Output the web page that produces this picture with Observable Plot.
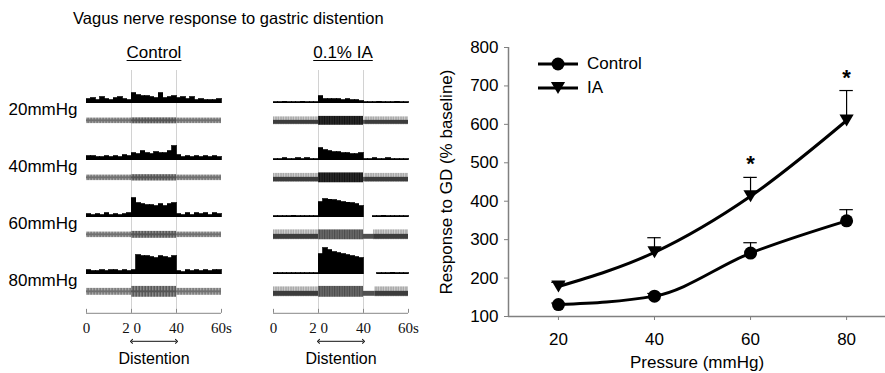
<!DOCTYPE html>
<html>
<head>
<meta charset="utf-8">
<script src="https://cdn.jsdelivr.net/npm/d3@7"></script>
<script src="https://cdn.jsdelivr.net/npm/@observablehq/plot@0.6"></script>
<style>
  body { margin: 0; background: #fff; }
  #root { position: relative; width: 885px; height: 373px; overflow: hidden; background: #fff;
          font-family: "Liberation Sans", Arial, sans-serif; color: #000; }
  .abs { position: absolute; white-space: nowrap; }
  .title { left: 73px; top: 8px; font-size: 16.5px; line-height: 20px; }
  .colhead { top: 43px; font-size: 17px; line-height: 20px; transform: translateX(-50%); text-decoration: underline; text-underline-offset: 2px; }
  .legend { left: 537px; top: 52px; font-size: 17px; }
  .legend .item { display: flex; align-items: center; height: 24px; }
  .legend svg { display: block; margin-right: 0; }
  svg g[aria-label="y-axis tick"] path, svg g[aria-label="x-axis tick"] path { stroke: #808080; }
</style>
</head>
<body>
<svg width="0" height="0" style="position:absolute">
  <defs>
    <pattern id="texCtl" patternUnits="userSpaceOnUse" width="3" height="4">
      <rect width="3" height="4" fill="#a8a8a8"/>
      <rect x="0.5" width="1.2" height="4" fill="#6e6e6e"/>
    </pattern>
    <pattern id="texCtlDur" patternUnits="userSpaceOnUse" width="3" height="4">
      <rect width="3" height="4" fill="#8a8a8a"/>
      <rect x="0.5" width="1.4" height="4" fill="#555"/>
    </pattern>
    <pattern id="texLight" patternUnits="userSpaceOnUse" width="2.5" height="4">
      <rect width="2.5" height="4" fill="#d0d0d0"/>
      <rect x="0.4" width="1.1" height="4" fill="#9a9a9a"/>
    </pattern>
    <pattern id="texDark" patternUnits="userSpaceOnUse" width="2.5" height="4">
      <rect width="2.5" height="4" fill="#111"/>
      <rect x="0.4" width="0.9" height="4" fill="#3a3a3a"/>
    </pattern>
    <pattern id="texMid" patternUnits="userSpaceOnUse" width="2.5" height="4">
      <rect width="2.5" height="4" fill="#4a4a4a"/>
      <rect x="0.4" width="1" height="4" fill="#7a7a7a"/>
    </pattern>
  </defs>
</svg>
<div id="root"></div>
<script>
// ---------------- data: nerve recordings (left) ----------------
const rows = ["20mmHg", "40mmHg", "60mmHg", "80mmHg"];
const binStarts = [0, 2, 4, 6, 8, 10, 12, 14, 16, 18, 20, 22, 24, 26, 28, 30, 32, 34, 36, 38, 40, 42, 44, 46, 48, 50, 52, 54, 56, 58];
const binWidth = 2;
const distention = [20, 40];
const timeTicks = [0, 20, 40, 60];
const timeTickLabels = ["0", "2 0", "40", "60s"];

// histogram bin heights (spike counts, arbitrary units)
const controlHist = [
  [4, 5, 3, 6, 4, 3, 5, 6, 4, 3, 10, 8, 7, 7, 6, 5, 10, 5, 6, 7, 5, 6, 4, 6, 3, 4, 3, 3, 3, 4],
  [4, 4, 3, 3, 4, 3, 4, 3, 5, 4, 7, 6, 9, 7, 6, 8, 7, 7, 9, 14, 5, 3, 4, 3, 4, 3, 4, 3, 4, 3],
  [3, 2, 3, 2, 4, 2, 3, 2, 3, 4, 19, 14, 13, 12, 12, 11, 13, 11, 13, 14, 3, 2, 4, 2, 4, 3, 4, 2, 4, 3],
  [4, 3, 3, 4, 3, 4, 4, 3, 4, 3, 4, 19, 18, 18, 17, 16, 18, 17, 16, 18, 3, 2, 4, 3, 4, 3, 4, 3, 4, 4]
];
const iaHist = [
  [1, 1, 1.5, 1, 1, 1, 1.5, 1, 1, 1, 7, 4, 4, 4, 4, 3, 4, 3, 3, 2, 1, 1, 1, 1.5, 1, 1, 1, 1.5, 1, 1],
  [1, 1, 2, 1, 1, 2, 1, 2, 1, 1, 12, 10, 9, 8, 8, 7, 7, 6, 6, 7, 1, 1, 2, 1, 1, 2, 1, 1, 1, 1],
  [1, 1, 1, 1, 1.5, 1, 1, 1, 1, 1, 15, 18, 17.5, 17, 16, 15, 14.5, 14, 13, 11, 0, 0, 1, 1, 1.5, 1, 1, 1, 1, 1],
  [1, 1, 1, 1, 1, 1, 1, 1, 1, 1, 20, 26, 24, 22, 21, 20, 19, 18, 17, 16, 0, 0, 0, 1, 1, 1, 1.5, 1, 1, 1]
];
// raw-trace half amplitudes for [before, during, after] distention
const controlTraceAmp = [[2.8, 3, 2.8], [2.8, 3.2, 2.8], [2.8, 3.5, 2.8], [3.5, 5.5, 3.5]];
const iaTraceAmp = [[4, 4.5, 4], [4.5, 5, 4.5], [5, 5, 5], [5, 5.5, 5]];
const iaRecovery = [40.5, 40.5, 44.5, 45]; // time (s) where post-distention activity resumes

// ---------------- data: pressure response (right) ----------------
const pressure = [20, 40, 60, 80];
const controlMean = [131, 153, 265, 349];
const controlSem = [4, 7, 27, 29];
const iaMean = [178, 267, 413, 610];
const iaSem = [11, 38, 49, 78];
const significant = [60, 80];
const yTicks = [100, 200, 300, 400, 500, 600, 700, 800];
const legendLabels = ["Control", "IA"];

// ---------------- layout constants ----------------
const SANS = "Liberation Sans, Arial, sans-serif";
const SERIF = "Liberation Serif, Times New Roman, serif";
const Y_LOW = -24.75, Y_HIGH = 33;
const TRACE_Y = -18;
const AXIS_Y = Y_LOW - 15;

const root = document.getElementById("root");
function addDiv(cls, text, style) {
  const d = document.createElement("div");
  d.className = "abs " + cls;
  d.textContent = text;
  if (style) Object.assign(d.style, style);
  root.appendChild(d);
  return d;
}
addDiv("title", "Vagus nerve response to gastric distention");
addDiv("colhead", "Control", { left: "154px" });
addDiv("colhead", "0.1% IA", { left: "343px" });

function traceRectsControl() {
  const out = [];
  const phases = [[timeTicks[0], distention[0]], distention, [distention[1], timeTicks[3]]];
  rows.forEach((row, i) => {
    phases.forEach((ph, k) => {
      const a = controlTraceAmp[i][k];
      out.push({ row, x1: ph[0], x2: ph[1], lo: TRACE_Y - a, hi: TRACE_Y + a, fill: k === 1 ? "url(#texCtlDur)" : "url(#texCtl)" });
      out.push({ row, x1: ph[0], x2: ph[1], lo: TRACE_Y - 1, hi: TRACE_Y + 1, fill: k === 1 ? "#555" : "#707070" });
    });
  });
  return out;
}
function traceRectsIA() {
  const out = [];
  rows.forEach((row, i) => {
    const amp = iaTraceAmp[i];
    const dur = i < 2 ? "url(#texDark)" : "url(#texMid)";
    out.push({ row, x1: timeTicks[0], x2: distention[0], lo: TRACE_Y - amp[0], hi: TRACE_Y + amp[0], fill: "url(#texLight)" });
    out.push({ row, x1: timeTicks[0], x2: distention[0], lo: TRACE_Y - amp[0] + 0.5, hi: TRACE_Y + 0.5, fill: "#3c3c3c" });
    out.push({ row, x1: distention[0], x2: distention[1], lo: TRACE_Y - amp[1], hi: TRACE_Y + amp[1], fill: dur });
    out.push({ row, x1: distention[1], x2: iaRecovery[i], lo: TRACE_Y - amp[2] + 0.5, hi: TRACE_Y + 0.5, fill: "#505050" });
    out.push({ row, x1: iaRecovery[i], x2: timeTicks[3], lo: TRACE_Y - amp[2], hi: TRACE_Y + amp[2], fill: "url(#texLight)" });
    out.push({ row, x1: iaRecovery[i], x2: timeTicks[3], lo: TRACE_Y - amp[2] + 0.5, hi: TRACE_Y + 0.5, fill: "#3c3c3c" });
  });
  return out;
}

function column({ hist, traces, showLabels, width, marginLeft, left }) {
  const histData = rows.flatMap((row, i) =>
    hist[i].map((v, j) => ({ row, t0: binStarts[j], t1: binStarts[j] + binWidth, v })));
  const last = rows[rows.length - 1];
  const mid = (distention[0] + distention[1]) / 2;
  const marks = [
    Plot.ruleX(distention, { x: d => d, stroke: "#d2d2d2", strokeWidth: 1 }),
    Plot.ruleX(distention.map(t => ({ t, row: last })), { x: "t", fy: "row", y1: Y_LOW, y2: AXIS_Y, stroke: "#d2d2d2", strokeWidth: 1 }),
    Plot.rect(traces, { x1: "x1", x2: "x2", y1: "lo", y2: "hi", fy: "row", fill: "fill", inset: 0 }),
    Plot.rectY(histData, { x1: "t0", x2: "t1", y: "v", fy: "row", fill: "black", stroke: "black", strokeWidth: 0.8, inset: 0, shapeRendering: "crispEdges" }),
    Plot.ruleY([{ row: last }], { fy: "row", y: AXIS_Y, x1: timeTicks[0], x2: timeTicks[3], stroke: "#888", strokeWidth: 1 }),
    Plot.ruleX(timeTicks.map(t => ({ t, row: last })), { x: "t", fy: "row", y1: AXIS_Y, y2: AXIS_Y + 4, stroke: "#888", strokeWidth: 1 }),
    Plot.text(timeTicks.map((t, i) => ({ t, row: last, label: timeTickLabels[i] })), {
      x: "t", fy: "row", y: AXIS_Y, dy: 15, text: "label", fontFamily: SERIF, fontSize: 15, fill: "#111"
    }),
    Plot.link(distention.map(t => ({ from: mid, to: t, row: last })), {
      x1: "from", x2: "to", y1: AXIS_Y, y2: AXIS_Y, dy: 28, fy: "row", stroke: "#111", strokeWidth: 1, markerEnd: "arrow"
    }),
    Plot.text([{ row: last, label: "Distention" }], {
      x: mid, y: AXIS_Y, dy: 46, fy: "row", text: "label", fontFamily: SANS, fontSize: 16, fill: "#000"
    })
  ];
  if (showLabels) {
    marks.push(Plot.text(rows, { fy: d => d, x: timeTicks[0], y: -7, text: d => d, textAnchor: "end", dx: -9, fontFamily: SANS, fontSize: 17, fill: "#000" }));
  }
  const svg = Plot.plot({
    width, height: 313, marginLeft, marginRight: 15, marginTop: 8, marginBottom: 74,
    x: { domain: [timeTicks[0], timeTicks[3]], axis: null },
    y: { domain: [Y_LOW, Y_HIGH], axis: null },
    fy: { domain: rows, padding: 0, axis: null },
    color: { type: "identity" },
    style: { background: "transparent", overflow: "visible", fontFamily: SANS },
    marks
  });
  svg.style.position = "absolute";
  svg.style.left = left + "px";
  svg.style.top = "60px";
  root.appendChild(svg);
}

column({ hist: controlHist, traces: traceRectsControl(), showLabels: true, width: 236, marginLeft: 86, left: 0 });
column({ hist: iaHist, traces: traceRectsIA(), showLabels: false, width: 173, marginLeft: 23, left: 250 });

// ---------------- right chart ----------------
const triDown = {
  draw(ctx, size) {
    const s = Math.sqrt(size);
    const w = 1.6 * s, h = 1.35 * s;
    ctx.moveTo(-w / 2, -h / 2);
    ctx.lineTo(w / 2, -h / 2);
    ctx.lineTo(0, h / 2);
    ctx.closePath();
  }
};
const ctrlPts = pressure.map((p, i) => ({ p, m: controlMean[i], hi: controlMean[i] + controlSem[i] }));
const iaPts = pressure.map((p, i) => ({ p, m: iaMean[i], hi: iaMean[i] + iaSem[i] }));
const sigPts = significant.map(p => iaPts.find(d => d.p === p));
const xDomain = [9.6, 88.1];
const CAP = 1.4;

const right = Plot.plot({
  width: 455, height: 343, marginLeft: 78, marginRight: 0, marginTop: 17, marginBottom: 57,
  x: { domain: xDomain, ticks: pressure, tickSize: 4, tickPadding: 12, label: null },
  y: { domain: [yTicks[0], yTicks[yTicks.length - 1]], ticks: yTicks, tickSize: 4, tickPadding: 6, label: null },
  style: { background: "transparent", overflow: "visible", fontFamily: SANS, fontSize: "17px", color: "#000" },
  marks: [
    Plot.ruleY([yTicks[0]], { stroke: "#808080", strokeWidth: 1.5 }),
    Plot.ruleX([xDomain[0]], { y1: yTicks[0], y2: yTicks[yTicks.length - 1], stroke: "#808080", strokeWidth: 1.5 }),
    ...[ctrlPts, iaPts].flatMap(pts => [
      Plot.ruleX(pts, { x: "p", y1: "m", y2: "hi", stroke: "#000", strokeWidth: 1.2 }),
      Plot.ruleY(pts, { y: "hi", x1: d => d.p - CAP, x2: d => d.p + CAP, stroke: "#000", strokeWidth: 1.2 })
    ]),
    Plot.line(ctrlPts, { x: "p", y: "m", curve: "monotone-x", stroke: "#000", strokeWidth: 3 }),
    Plot.line(iaPts, { x: "p", y: "m", curve: "monotone-x", stroke: "#000", strokeWidth: 3 }),
    Plot.dot(ctrlPts, { x: "p", y: "m", r: 6.5, fill: "#000", stroke: "none", symbol: "circle" }),
    Plot.dot(iaPts, { x: "p", y: "m", r: 5, fill: "#000", stroke: "none", symbol: triDown }),
    Plot.text(sigPts, { x: "p", y: "hi", dy: -13, text: () => "*", fontSize: 22, fontWeight: "bold", fill: "#000" }),
    Plot.text(["Response to GD (% baseline)"], { frameAnchor: "left", rotate: -90, dx: -62, text: d => d, fontSize: 17, fill: "#000", lineAnchor: "middle", textAnchor: "middle" }),
    Plot.text(["Pressure (mmHg)"], { frameAnchor: "bottom", dy: 46, text: d => d, fontSize: 17, fill: "#000", lineAnchor: "middle", textAnchor: "middle" })
  ]
});
right.style.position = "absolute";
right.style.left = "430px";
right.style.top = "30px";
root.appendChild(right);

// legend
const legend = document.createElement("div");
legend.className = "abs legend";
legendLabels.forEach((label, i) => {
  const item = document.createElement("div");
  item.className = "item";
  const s = d3.create("svg").attr("width", 50).attr("height", 24);
  s.append("line").attr("x1", 1).attr("x2", 41).attr("y1", 12).attr("y2", 12).attr("stroke", "#000").attr("stroke-width", 3);
  if (i === 0) s.append("circle").attr("cx", 21).attr("cy", 12).attr("r", 6.5).attr("fill", "#000");
  else s.append("path").attr("transform", "translate(21,12)").attr("d", d3.symbol(triDown, Math.PI * 25)()).attr("fill", "#000");
  item.appendChild(s.node());
  const t = document.createElement("span");
  t.textContent = label;
  item.appendChild(t);
  legend.appendChild(item);
});
root.appendChild(legend);
</script>
</body>
</html>
